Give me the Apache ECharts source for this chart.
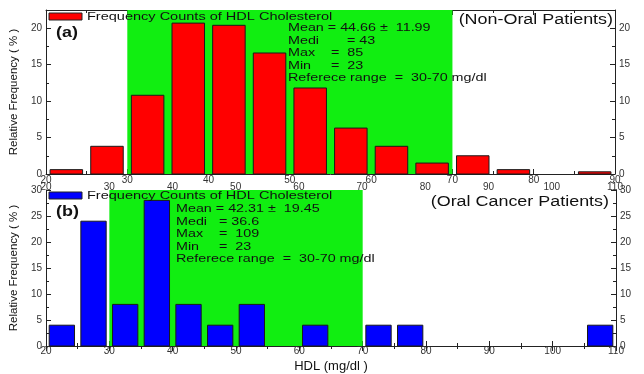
<!DOCTYPE html>
<html>
<head>
<meta charset="utf-8">
<script src="https://cdn.jsdelivr.net/npm/echarts@6/dist/echarts.min.js"></script>
<style>
  html, body { margin: 0; padding: 0; background: #fff; }
  #chart { width: 644px; height: 374px; }
</style>
</head>
<body>
<div id="chart"></div>
<script>
// HDL histogram bins (mg/dl), each 5 wide
const binWidth = 5;
const binStartsA = [20, 25, 30, 35, 40, 45, 50, 55, 60, 65, 70, 75, 80, 85];
const relFreqA   = [0.6, 3.8, 10.8, 20.7, 20.4, 16.6, 11.8, 6.3, 3.8, 1.5, 2.5, 0.6, 0, 0.3];
const binStartsB = [20, 25, 30, 35, 40, 45, 50, 55, 60, 65, 70, 75, 80, 85, 90, 95, 100, 105];
const relFreqB   = [4, 24, 8, 28, 8, 4, 8, 0, 4, 0, 4, 4, 0, 0, 0, 0, 0, 4];

// reference range shaded in green
const refRange = [30, 70];

// axis ranges
const xRangeA = [20, 90];
const xRangeWide = [20, 110];
const yRangeA = [0, 22.5];
const yRangeB = [0, 30];

const legendText = 'Frequency Counts of HDL Cholesterol';
const statsA = ['Mean = 44.66 \u00b1  11.99', 'Medi       = 43', 'Max    =  85', 'Min     =  23', 'Referece range  =  30-70 mg/dl'];
const statsB = ['Mean = 42.31 \u00b1  19.45', 'Medi   = 36.6', 'Max    =  109', 'Min     =  23', 'Referece range  =  30-70 mg/dl'];

const GREEN = '#11ee11';
const RED = '#ff0000';
const BLUE = '#0000ff';
const INK = '#111';
const FONT = '"Liberation Sans", Arial, sans-serif';
const STRETCH = 1.28;

function toBins(starts, vals) {
  return starts.map((s, i) => [s, s + binWidth, vals[i]]);
}

function barItem(params, api) {
  const v = api.value(2);
  if (!(v > 0)) return null;
  const p0 = api.coord([api.value(0), v]);
  const p1 = api.coord([api.value(1), 0]);
  const w = p1[0] - p0[0];
  const pad = w * 0.1;
  return {
    type: 'rect',
    shape: { x: p0[0] + pad, y: p0[1], width: w - 2 * pad, height: p1[1] - p0[1] },
    style: { fill: api.visual('color'), stroke: '#1a1a1a', lineWidth: 1 }
  };
}

function bandItem(params, api) {
  const cs = params.coordSys;
  const a = api.coord([api.value(0), 0])[0];
  const b = api.coord([api.value(1), 0])[0];
  return { type: 'rect', shape: { x: a, y: cs.y, width: b - a, height: cs.height }, style: { fill: GREEN } };
}

const axisLine = { show: true, lineStyle: { color: '#222', width: 1 } };
const tickIn = { show: true, inside: true, length: 5, lineStyle: { color: '#222' } };
const minorIn = { show: true, splitNumber: 2, length: 3, lineStyle: { color: '#222' } };
const lbl = (margin) => ({ fontSize: 10, color: '#333', fontFamily: FONT, margin: margin });

function xAx(grid, range, extra) {
  return Object.assign({
    type: 'value', gridIndex: grid, min: range[0], max: range[1], interval: 10,
    axisLine: axisLine, axisTick: tickIn, minorTick: minorIn,
    splitLine: { show: false }, axisLabel: lbl(1)
  }, extra);
}
function yAx(grid, range, pos, extra) {
  return Object.assign({
    type: 'value', gridIndex: grid, position: pos, min: range[0], max: range[1], interval: 5,
    axisLine: axisLine, axisTick: tickIn, minorTick: minorIn,
    splitLine: { show: false }, axisLabel: Object.assign(lbl(4), { showMaxLabel: range[1] % 5 === 0 })
  }, extra);
}

const yName = {
  name: 'Relative Frequency ( % )', nameLocation: 'middle', nameGap: 22,
  nameTextStyle: { fontSize: 11.5, color: INK, fontFamily: FONT }
};

function txt(x, y, text, size, opts) {
  opts = opts || {};
  return {
    type: 'text', x: x, y: y, scaleX: opts.stretch || STRETCH, z: 50,
    style: {
      text: text, fill: INK, align: opts.align || 'left', verticalAlign: 'middle',
      font: (opts.bold ? 'bold ' : '') + size + 'px ' + FONT
    }
  };
}

function panelGraphics(top, color, tag, stats, statsX, statsY0, title, titleX, titleY) {
  const g = [
    { type: 'rect', z: 50, shape: { x: 49, y: top + 3, width: 33, height: 7 }, style: { fill: color, stroke: '#222', lineWidth: 1 } },
    txt(87, top + 7, legendText, 11, { stretch: 1.32 }),
    txt(56, top + 23, tag, 14, { bold: true }),
    txt(titleX, titleY, title, 14, { align: 'right' })
  ];
  stats.forEach((s, i) => g.push(txt(statsX, statsY0 + i * 12.6, s, 11.2)));
  return g;
}

const chart = echarts.init(document.getElementById('chart'), null, { renderer: 'canvas' });
chart.setOption({
  animation: false,
  backgroundColor: '#fff',
  grid: [
    { left: 43, top: 10, right: 29, height: 164 },
    { left: 43, top: 190, right: 28, height: 163 }
  ],
  xAxis: [
    xAx(0, xRangeA, { position: 'bottom' }),
    xAx(0, xRangeWide, { position: 'bottom', offset: 7, axisLine: { show: false }, axisTick: { show: false }, minorTick: { show: false } }),
    xAx(0, xRangeA, { position: 'top', axisLabel: { show: false } }),
    xAx(1, xRangeWide, {
      position: 'bottom', axisLabel: lbl(0),
      name: 'HDL (mg/dl )', nameLocation: 'middle', nameGap: 14,
      nameTextStyle: { fontSize: 13, color: INK, fontFamily: FONT }
    }),
    xAx(1, xRangeWide, { position: 'top', axisLabel: { show: false } })
  ],
  yAxis: [
    yAx(0, yRangeA, 'left', yName),
    yAx(0, yRangeA, 'right'),
    yAx(1, yRangeB, 'left', yName),
    yAx(1, yRangeB, 'right')
  ],
  series: [
    { type: 'custom', xAxisIndex: 0, yAxisIndex: 0, z: 1, renderItem: bandItem, encode: { x: [0, 1], y: 2 }, data: [[refRange[0], refRange[1], 0]], silent: true },
    { type: 'custom', xAxisIndex: 0, yAxisIndex: 0, z: 3, renderItem: barItem, encode: { x: [0, 1], y: 2 }, itemStyle: { color: RED }, data: toBins(binStartsA, relFreqA) },
    { type: 'custom', xAxisIndex: 3, yAxisIndex: 2, z: 1, renderItem: bandItem, encode: { x: [0, 1], y: 2 }, data: [[refRange[0], refRange[1], 0]], silent: true },
    { type: 'custom', xAxisIndex: 3, yAxisIndex: 2, z: 3, renderItem: barItem, encode: { x: [0, 1], y: 2 }, itemStyle: { color: BLUE }, data: toBins(binStartsB, relFreqB) }
  ],
  graphic: [].concat(
    panelGraphics(10, RED, '(a)', statsA, 288, 28, '(Non-Oral Patients)', 613, 20),
    panelGraphics(189, BLUE, '(b)', statsB, 176, 209, '(Oral Cancer Patients)', 609, 202)
  )
});
</script>
</body>
</html>
